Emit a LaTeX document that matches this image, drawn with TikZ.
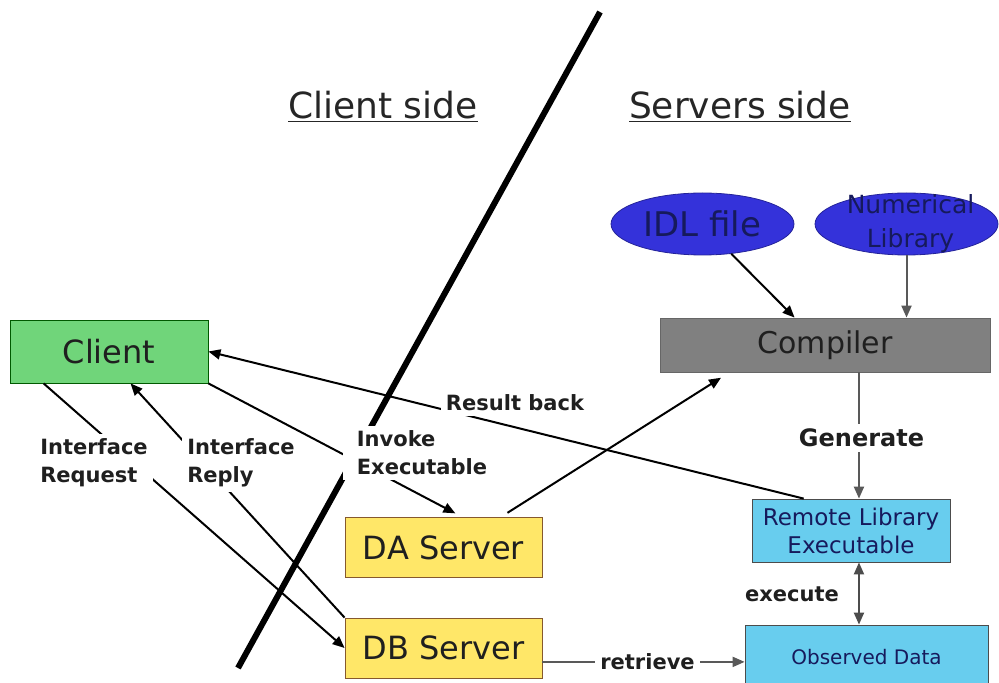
\documentclass[tikz,border=0pt]{standalone}
\usepackage{fontspec}
\setmainfont{DejaVu Sans}
\usepackage{xcolor}
\usetikzlibrary{arrows.meta, shapes.geometric, calc}

\definecolor{clientgreen}{RGB}{112,213,122}
\definecolor{servyellow}{RGB}{255,231,104}
\definecolor{execcyan}{RGB}{104,205,238}
\definecolor{compgray}{RGB}{128,128,128}
\definecolor{fileblue}{RGB}{52,50,218}
\definecolor{navytext}{RGB}{22,26,92}

\tikzset{
  sbox/.style     = {rectangle, draw, align=center, inner sep=2pt, text=black!88},
  greenbox/.style = {sbox, fill=clientgreen, draw=green!35!black,
                     font=\fontsize{16}{19}\selectfont,
                     minimum width=99pt, minimum height=31.5pt},
  yellowbox/.style= {sbox, fill=servyellow, draw=brown!70!black,
                     font=\fontsize{16}{19}\selectfont,
                     minimum width=98.5pt, minimum height=30pt},
  graybox/.style  = {sbox, fill=compgray, draw=black!60,
                     font=\fontsize{15}{18}\selectfont,
                     minimum width=165pt, minimum height=27pt},
  cyanbox/.style  = {sbox, fill=execcyan, draw=black!70, text=navytext,
                     font=\fontsize{11.5}{14}\selectfont,
                     minimum width=99pt, minimum height=31.5pt},
  blueell/.style  = {ellipse, draw=fileblue!70!black, fill=fileblue,
                     inner sep=0pt, text=navytext,
                     minimum width=91.5pt, minimum height=31pt},
  elltext/.style  = {align=center, text=navytext, inner sep=0pt,
                     font=\fontsize{12.5}{17}\selectfont},
  sidetitle/.style= {font=\fontsize{18}{21}\selectfont, text=black!85},
  arr/.style      = {-{Triangle[length=6pt, width=5pt]}, line width=1pt},
  garr/.style     = {arr, draw=black!65},
  darr/.style     = {{Triangle[length=6pt, width=5pt]}-{Triangle[length=6pt, width=5pt]},
                     line width=1pt, draw=black!70},
  lbl/.style      = {font=\bfseries\fontsize{10.5}{14}\selectfont, fill=white,
                     inner sep=2.5pt, align=left, text=black!88},
}

\begin{document}
\begin{tikzpicture}[x=0.5pt, y=-0.5pt]
  \useasboundingbox (0,0) rectangle (999,683);

  % line between the two sides
  \coordinate (divtop) at (600,12);
  \coordinate (divbot) at (238,668);
  \draw[line width=3pt] (divtop) -- (divbot);

  \node[sidetitle] (clientside) at (383,107) {\underline{Client side}};
  \node[sidetitle] (serverside) at (740,107) {\underline{Servers side}};

  \node[greenbox]  (client)   at (109,351.5) {Client};
  \node[blueell, font=\fontsize{17}{20}\selectfont] (idl) at (702.5,224) {IDL file};
  \node[blueell, label={[elltext, xshift=2pt]center:{Numerical\\Library}}]
    (numlib) at (906.5,224) {};
  \node[graybox]   (compiler) at (825,345) {Compiler};
  \node[cyanbox]   (remote)   at (851,530.5) {Remote Library\\Executable};
  \node[cyanbox, minimum width=121.5pt, minimum height=32pt,
        font=\fontsize{10}{12}\selectfont] (observed) at (866.5,657) {Observed Data};
  \node[yellowbox] (da) at (443.5,547.5) {DA Server};
  \node[yellowbox] (db) at (443.5,648) {DB Server};

  \draw[arr] (remote.146) -- (client.east);
  \draw[arr, shorten >=4pt] (client.south east) -- (da.58);
  \draw[arr, shorten <=4pt, shorten >=5pt] (da.28) -- (compiler.196);
  \draw[arr] (idl.-46) -- (compiler.138);
  \draw[garr] (numlib.south) -- (numlib.south |- compiler.north);
  \draw[garr] (remote.76 |- compiler.south) -- (remote.76);
  \draw[darr] (remote.-76) -- (remote.-76 |- observed.north);
  \draw[garr] (db.-8) -- (db.-8 -| observed.west);
  \draw[arr] (client.206) -- (db.west);
  \draw[arr] (db.north west) -- (client.-56);

  % labels sit on the lines
  \node[lbl] (resultlbl) at (515,403) {Result back};
  \node[lbl, inner xsep=7pt] (invokelbl) at (422,453) {Invoke\\Executable};
  \node[lbl] (reqlbl)    at (94,463)  {Interface\\Request};
  \node[lbl] (replylbl)  at (241,463) {Interface\\Reply};
  \node[lbl, font=\bfseries\fontsize{12}{14}\selectfont] (genlbl) at (861.5,438) {Generate};
  \node[lbl] (execlbl)   at (792,594) {execute};
  \node[lbl] (retrlbl)   at (647.5,662) {retrieve};
\end{tikzpicture}
\end{document}
